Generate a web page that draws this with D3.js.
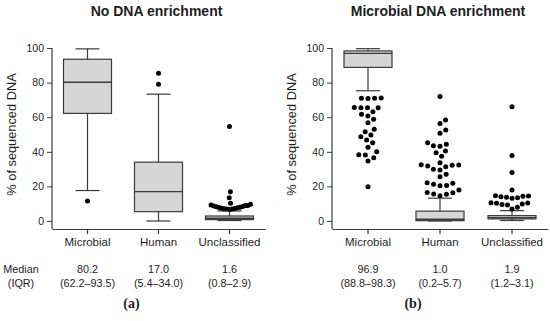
<!DOCTYPE html>
<html>
<head>
<meta charset="utf-8">
<script src="https://cdn.jsdelivr.net/npm/d3@7"></script>
<style>
  body { margin: 0; background: #fff; }
  svg { display: block; font-family: "Liberation Sans", Arial, sans-serif; }
</style>
</head>
<body>
<svg id="chart"></svg>
<script>
const categories = ['Microbial', 'Human', 'Unclassified'];
const yTicks = [0, 20, 40, 60, 80, 100];

// (a) no DNA enrichment
const noEnrichMedian = [80.2, 17.0, 1.6];
const noEnrichQ1 = [62.2, 5.4, 0.8];
const noEnrichQ3 = [93.5, 34.0, 2.9];
const noEnrichLow = [17.6, 0, 0.3];
const noEnrichHigh = [99.5, 73.3, 5.8];
const noEnrichOutliers = [
  [11.6],
  [85.4, 79.0],
  [54.6, 16.9, 13.5, 10.2, 9.7, 9.2, 8.9, 8.6, 8.3, 8.0, 7.8, 7.6, 7.4, 7.2, 7.0, 6.9, 6.7, 7.1, 8.4, 9.0]
];

// (b) microbial DNA enrichment
const enrichMedian = [96.9, 1.0, 1.9];
const enrichQ1 = [88.8, 0.2, 1.2];
const enrichQ3 = [98.3, 5.7, 3.1];
const enrichLow = [75.3, 0, 0.3];
const enrichHigh = [99.6, 13.2, 6.0];
const enrichOutliers = [
  [70.8, 71.0, 71.1, 70.9, 65.5, 65.4, 65.6, 65.5, 63.2, 61.7, 60.7, 58.8, 56.8, 53.0, 51.6,
   49.7, 48.7, 46.8, 45.3, 42.6, 40.0, 38.2, 38.3, 36.6, 34.7, 19.8],
  [71.9, 58.4, 56.3, 52.6, 50.7, 45.3, 44.3, 43.5, 43.2, 40.5, 39.5, 37.4, 33.7, 32.4, 32.2,
   31.8, 31.4, 32.5, 29.9, 29.5, 27.0, 25.6, 22.1, 21.8, 21.2, 20.4, 20.5, 17.9, 16.4, 16.5,
   15.6, 15.4, 14.6],
  [66.0, 37.8, 28.1, 17.9, 14.6, 14.3, 13.8, 13.1, 13.4, 14.0, 14.5, 10.6, 10.2, 9.6, 9.2,
   9.8, 10.4, 8.0, 6.9]
];

const width = 550, height = 321;
const ink = '#1e1e1e', lineCol = '#3a3a3a', boxFill = '#d6d6d6';

const svg = d3.select('#chart').attr('width', width).attr('height', height);
svg.append('rect').attr('width', width).attr('height', height).attr('fill', '#fff');

const y = d3.scaleLinear().domain([0, 100]).range([221, 48]);
const axisY = 229;

// simple beeswarm: place each point at the smallest offset that does not collide
function dodge(values, spacing, maxHalf) {
  const placed = [];
  values.slice().sort((a, b) => a - b).forEach(v => {
    const py = y(v);
    const cands = [0];
    placed.forEach(p => {
      const dy = Math.abs(p.y - py);
      if (dy < spacing) {
        const dx = Math.sqrt(spacing * spacing - dy * dy);
        cands.push(p.x + dx, p.x - dx);
      }
    });
    cands.sort((a, b) => Math.abs(a) - Math.abs(b));
    for (const cx of cands) {
      if (placed.every(p => (p.x - cx) ** 2 + (p.y - py) ** 2 >= spacing * spacing - 1e-6)) {
        placed.push({ v, x: cx, y: py });
        break;
      }
    }
  });
  const m = d3.max(placed, p => Math.abs(p.x)) || 0;
  if (m > maxHalf) placed.forEach(p => { p.x *= maxHalf / m; });
  return placed;
}

function drawPanel(x0, x1, title, median, q1, q3, low, high, outliers, letter, showRowLabels) {
  const g = svg.append('g');
  const x = d3.scaleBand().domain(categories).range([x0, x1]);
  const boxW = 48, capW = 24;

  g.append('text')
    .attr('x', (x0 + x1) / 2 - 2).attr('y', 16)
    .attr('text-anchor', 'middle')
    .attr('font-size', 14).attr('font-weight', 'bold').attr('fill', ink)
    .text(title);

  // y axis
  const ya = g.append('g').attr('transform', `translate(${x0},0)`)
    .call(d3.axisLeft(y).tickValues(yTicks).tickSize(5).tickSizeOuter(0).tickPadding(3));
  ya.select('.domain').remove();
  ya.selectAll('line').attr('stroke', lineCol);
  ya.selectAll('text').attr('font-size', 10.5).attr('fill', ink)
    .style('font-family', '"Liberation Sans", Arial, sans-serif');
  g.append('line').attr('x1', x0).attr('x2', x0).attr('y1', y(100)).attr('y2', axisY)
    .attr('stroke', lineCol).attr('stroke-width', 1.2);

  g.append('text')
    .attr('transform', `translate(${x0 - 40},${(y(0) + y(100)) / 2}) rotate(-90)`)
    .attr('text-anchor', 'middle').attr('dy', '0.35em')
    .attr('font-size', 12.8).attr('fill', ink)
    .text('% of sequenced DNA');

  // x axis
  const xa = g.append('g').attr('transform', `translate(0,${axisY})`)
    .call(d3.axisBottom(x).tickSize(5).tickSizeOuter(0).tickPadding(4));
  xa.select('.domain').attr('stroke', lineCol).attr('stroke-width', 1.2);
  xa.selectAll('line').attr('stroke', lineCol).attr('stroke-width', 1.2);
  xa.selectAll('text').attr('font-size', 11.5).attr('fill', ink)
    .style('font-family', '"Liberation Sans", Arial, sans-serif');

  categories.forEach((c, i) => {
    const cx = x(c) + x.bandwidth() / 2;
    const bg = g.append('g');
    // whisker
    bg.append('line').attr('x1', cx).attr('x2', cx).attr('y1', y(high[i])).attr('y2', y(low[i]))
      .attr('stroke', lineCol).attr('stroke-width', 1.2);
    [low[i], high[i]].forEach(v => {
      bg.append('line').attr('x1', cx - capW / 2).attr('x2', cx + capW / 2)
        .attr('y1', y(v)).attr('y2', y(v))
        .attr('stroke', lineCol).attr('stroke-width', 1.2);
    });
    bg.append('rect')
      .attr('x', cx - boxW / 2).attr('width', boxW)
      .attr('y', y(q3[i])).attr('height', y(q1[i]) - y(q3[i]))
      .attr('fill', boxFill).attr('stroke', lineCol).attr('stroke-width', 1.2);
    bg.append('line').attr('x1', cx - boxW / 2).attr('x2', cx + boxW / 2)
      .attr('y1', y(median[i])).attr('y2', y(median[i]))
      .attr('stroke', lineCol).attr('stroke-width', 1.4);

    // outliers
    bg.selectAll('circle').data(dodge(outliers[i], 6.6, 21)).enter().append('circle')
      .attr('cx', d => cx + d.x).attr('cy', d => d.y).attr('r', 2.5).attr('fill', '#000');

    // median / IQR row
    g.append('text').attr('x', cx).attr('y', 273).attr('text-anchor', 'middle')
      .attr('font-size', 10.8).attr('fill', ink).text(median[i].toFixed(1));
    g.append('text').attr('x', cx).attr('y', 287).attr('text-anchor', 'middle')
      .attr('font-size', 10.8).attr('fill', ink)
      .text(`(${q1[i].toFixed(1)}\u2013${q3[i].toFixed(1)})`);
  });

  if (showRowLabels) {
    g.append('text').attr('x', 21).attr('y', 273).attr('text-anchor', 'middle')
      .attr('font-size', 10.8).attr('fill', ink).text('Median');
    g.append('text').attr('x', 21).attr('y', 287).attr('text-anchor', 'middle')
      .attr('font-size', 10.8).attr('fill', ink).text('(IQR)');
  }

  g.append('text').attr('x', (x0 + x1) / 2 - 27).attr('y', 308).attr('text-anchor', 'middle')
    .attr('font-size', 14).attr('font-weight', 'bold').attr('fill', ink)
    .style('font-family', '"Liberation Serif", "Times New Roman", serif')
    .text(letter);
}

drawPanel(52, 265, 'No DNA enrichment', noEnrichMedian, noEnrichQ1, noEnrichQ3,
  noEnrichLow, noEnrichHigh, noEnrichOutliers, '(a)', true);
drawPanel(332, 548, 'Microbial DNA enrichment', enrichMedian, enrichQ1, enrichQ3,
  enrichLow, enrichHigh, enrichOutliers, '(b)', false);
</script>
</body>
</html>
